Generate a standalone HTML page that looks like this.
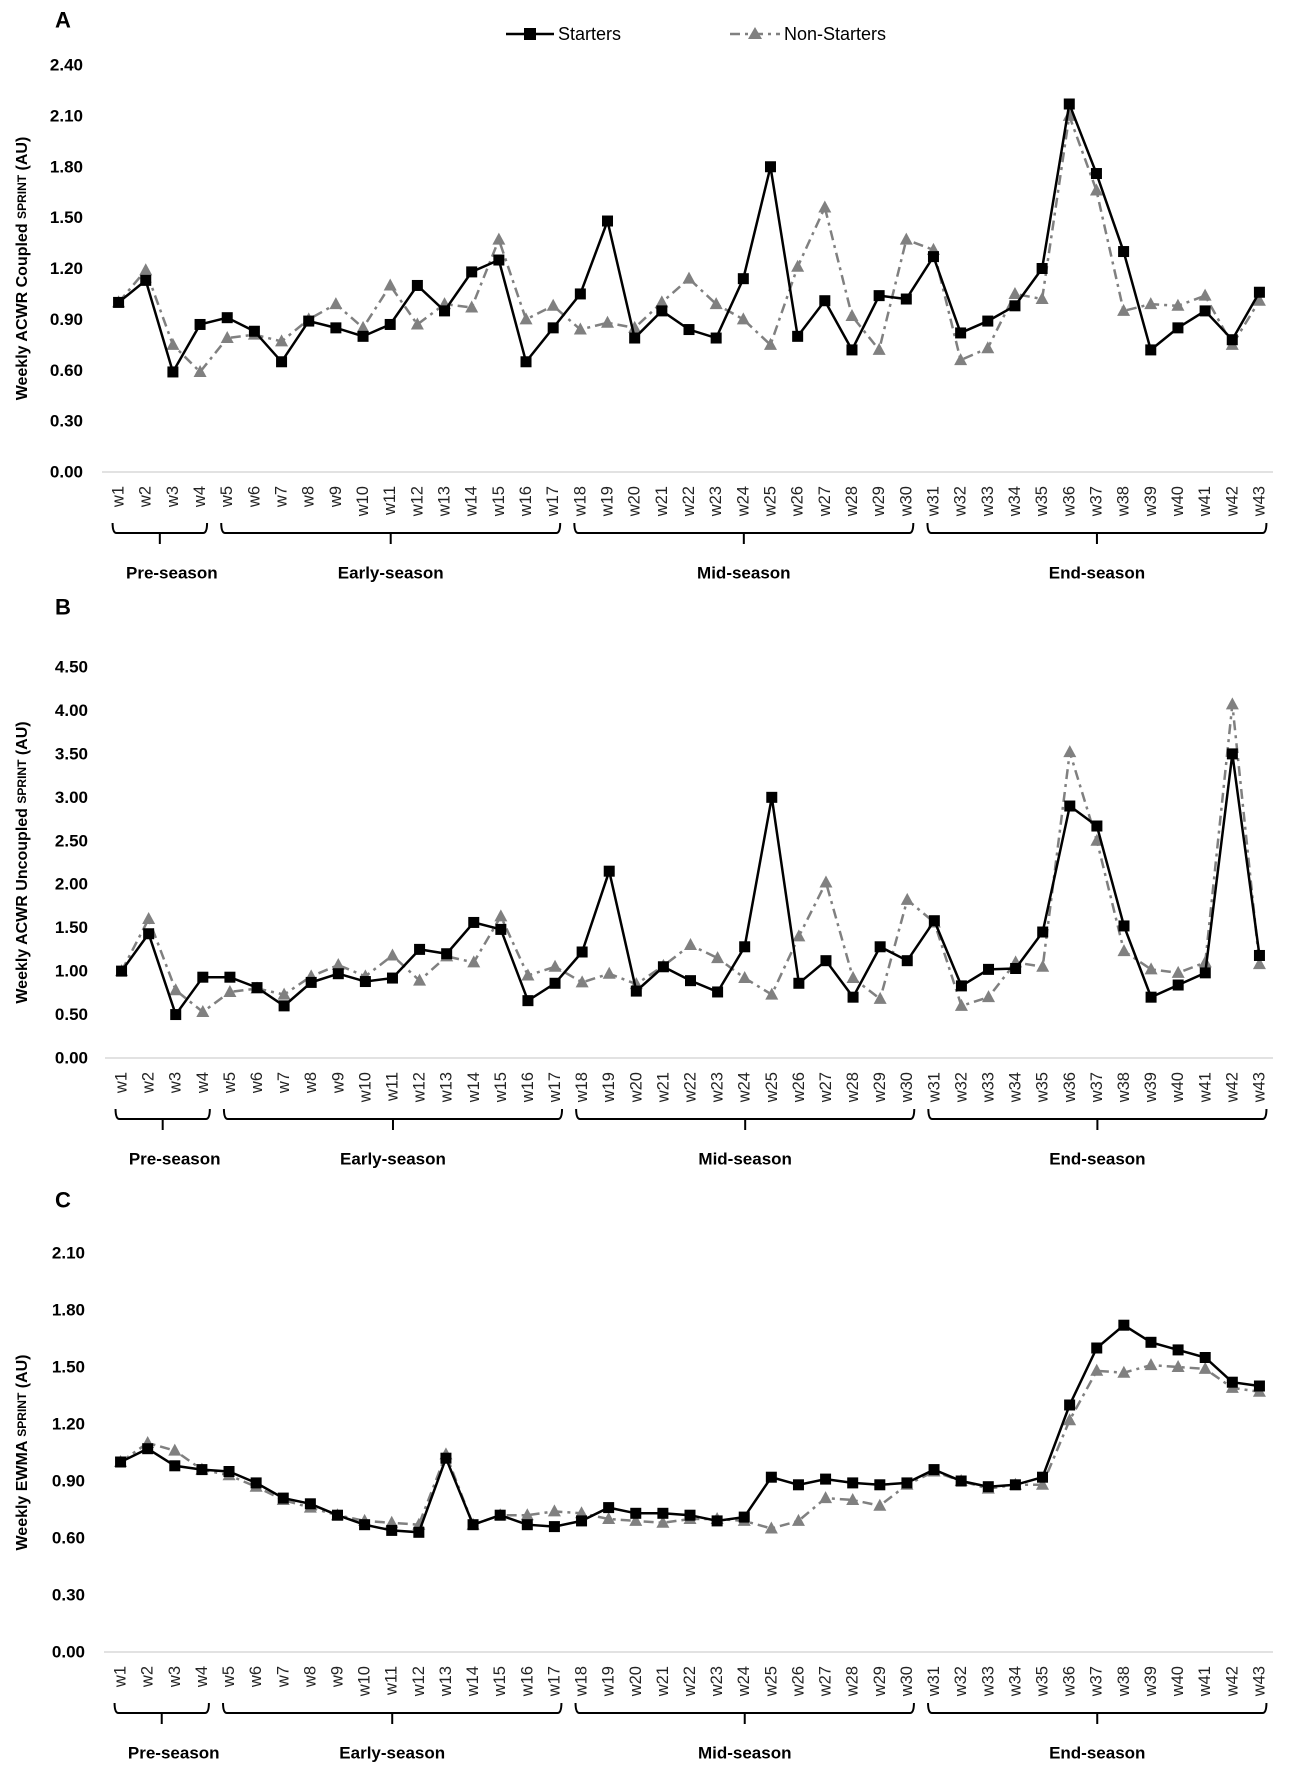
<!DOCTYPE html>
<html><head><meta charset="utf-8"><style>
html,body{margin:0;padding:0;background:#fff;}
svg{display:block;font-family:"Liberation Sans",sans-serif;}
</style></head><body>
<svg id="fig" width="1293" height="1777" viewBox="0 0 1293 1777" xmlns="http://www.w3.org/2000/svg">
<g>
<g>
<line x1="506" y1="34" x2="554" y2="34" stroke="#000" stroke-width="2.5"/>
<rect x="524" y="28" width="12" height="12" fill="#000"/>
<text x="558" y="40" font-size="18" fill="#000">Starters</text>
</g>
<g>
<line x1="730" y1="34" x2="780" y2="34" stroke="#808080" stroke-width="2.5" stroke-dasharray="10,5,3,5"/>
<polygon points="755,27 762,39 748,39" fill="#808080"/>
<text x="784" y="40" font-size="18" fill="#000">Non-Starters</text>
</g>
</g>
</svg>
<script>
const weeks = Array.from({length:43},(_,i)=>'w'+(i+1));
const seasonNames = ['Pre-season','Early-season','Mid-season','End-season'];
const seasonStart = [1,5,18,31];
const seasonEnd = [4,17,30,43];

const aTicks = [0,0.3,0.6,0.9,1.2,1.5,1.8,2.1,2.4];
const aStarters = [1.00,1.13,0.59,0.87,0.91,0.83,0.65,0.89,0.85,0.80,0.87,1.10,0.95,1.18,1.25,0.65,0.85,1.05,1.48,0.79,0.95,0.84,0.79,1.14,1.80,0.80,1.01,0.72,1.04,1.02,1.27,0.82,0.89,0.98,1.20,2.17,1.76,1.30,0.72,0.85,0.95,0.78,1.06];
const aNon = [1.00,1.19,0.75,0.59,0.79,0.81,0.77,0.90,0.99,0.85,1.10,0.87,0.99,0.97,1.37,0.90,0.98,0.84,0.88,0.85,1.00,1.14,0.99,0.90,0.75,1.21,1.56,0.92,0.72,1.37,1.31,0.66,0.73,1.05,1.02,2.10,1.66,0.95,0.99,0.98,1.04,0.75,1.01];

const bTicks = [0,0.5,1,1.5,2,2.5,3,3.5,4,4.5];
const bStarters = [1.00,1.43,0.50,0.93,0.93,0.81,0.60,0.87,0.97,0.88,0.92,1.25,1.20,1.56,1.48,0.66,0.86,1.22,2.15,0.77,1.05,0.89,0.76,1.28,3.00,0.86,1.12,0.70,1.28,1.12,1.58,0.83,1.02,1.03,1.45,2.90,2.67,1.52,0.70,0.84,0.98,3.50,1.18];
const bNon = [1.00,1.60,0.78,0.53,0.76,0.80,0.73,0.94,1.07,0.94,1.18,0.89,1.17,1.10,1.63,0.95,1.05,0.87,0.97,0.85,1.06,1.30,1.15,0.92,0.73,1.40,2.02,0.92,0.68,1.82,1.56,0.60,0.70,1.10,1.05,3.52,2.50,1.23,1.02,0.98,1.10,4.07,1.08];

const cTicks = [0,0.3,0.6,0.9,1.2,1.5,1.8,2.1];
const cStarters = [1.00,1.07,0.98,0.96,0.95,0.89,0.81,0.78,0.72,0.67,0.64,0.63,1.02,0.67,0.72,0.67,0.66,0.69,0.76,0.73,0.73,0.72,0.69,0.71,0.92,0.88,0.91,0.89,0.88,0.89,0.96,0.90,0.87,0.88,0.92,1.30,1.60,1.72,1.63,1.59,1.55,1.42,1.40];
const cNon = [1.00,1.10,1.06,0.96,0.93,0.87,0.80,0.76,0.72,0.69,0.68,0.67,1.04,0.67,0.72,0.72,0.74,0.73,0.70,0.69,0.68,0.70,0.70,0.69,0.65,0.69,0.81,0.80,0.77,0.88,0.95,0.90,0.86,0.88,0.88,1.22,1.48,1.47,1.51,1.50,1.49,1.39,1.37];

const NS='http://www.w3.org/2000/svg';
const svg=document.getElementById('fig');
function mk(tag,attrs,parent){const e=document.createElementNS(NS,tag);for(const k in attrs)e.setAttribute(k,attrs[k]);(parent||svg).appendChild(e);return e;}

function panel(cfg){
  const g=mk('g',{});
  
  
  const x0=cfg.x0,x1=1273,n=weeks.length,step=(x1-x0)/n;
  const xs=i=>x0+(i+0.5)*step;
  const ymax=cfg.ticks[cfg.ticks.length-1];
  const ys=v=>cfg.zero-(v/ymax)*(cfg.zero-cfg.top);
  const L=mk('text',{x:63,y:cfg.letterY,'font-size':22,'font-weight':'bold','text-anchor':'middle','dominant-baseline':'central'},g);
  L.textContent=cfg.letter;
  
  
  cfg.ticks.forEach(t=>{
    const tx=mk('text',{x:cfg.tickX,y:ys(t),'font-size':17,'font-weight':'bold','text-anchor':'end','dominant-baseline':'central'},g);
    tx.textContent=t.toFixed(2);
    
    
  });
  const ax=mk('line',{x1:x0-3,y1:cfg.zero,x2:x1,y2:cfg.zero,stroke:'#d9d9d9','stroke-width':1.5},g);
  
  
  const cy=(cfg.top+cfg.zero)/2;
  const yt=mk('text',{x:0,y:0,'font-size':16,'font-weight':'bold','text-anchor':'middle','dominant-baseline':'central',transform:`translate(22,${cy}) rotate(-90)`},g);
  
  
  const t1=mk('tspan',{},yt);t1.textContent=cfg.title1+' ';
  const t2=mk('tspan',{'font-size':12},yt);t2.textContent='SPRINT';
  const t3=mk('tspan',{},yt);t3.textContent=' (AU)';
  weeks.forEach((w,i)=>{
    const tx=mk('text',{x:0,y:0,'font-size':16.5,'text-anchor':'end','dominant-baseline':'central',fill:'#222',transform:`translate(${xs(i)},${cfg.zero+14}) rotate(-90)`},g);
    tx.textContent=w;
    
    
  });
  seasonNames.forEach((s,k)=>{
    const a=xs(seasonStart[k]-1)-6,b=xs(seasonEnd[k]-1)+7,m=(a+b)/2,yb=cfg.zero+61;
    const p=mk('path',{d:`M${a},${yb-10} Q${a},${yb} ${a+4},${yb} L${b-4},${yb} Q${b},${yb} ${b},${yb-10} M${m},${yb} L${m},${yb+11}`,fill:'none',stroke:'#000','stroke-width':2},g);
    
    
    const tx=mk('text',{x:m+(k==0?12:0),y:cfg.zero+101,'font-size':17,'font-weight':'bold','text-anchor':'middle','dominant-baseline':'central'},g);
    tx.textContent=s;
    
    
  });
  const pn=cfg.non.map((v,i)=>xs(i)+','+ys(v)).join(' ');
  const ln=mk('polyline',{points:pn,fill:'none',stroke:'#808080','stroke-width':2.5,'stroke-dasharray':'10,5,3,5'},g);
  
  
  cfg.non.forEach((v,i)=>{
    const x=xs(i),y=ys(v);
    const t=mk('polygon',{points:`${x},${y-7} ${x+6.5},${y+5} ${x-6.5},${y+5}`,fill:'#808080'},g);
    
    
  });
  const ps=cfg.st.map((v,i)=>xs(i)+','+ys(v)).join(' ');
  const ls=mk('polyline',{points:ps,fill:'none',stroke:'#000','stroke-width':2.5},g);
  
  
  cfg.st.forEach((v,i)=>{
    const r=mk('rect',{x:xs(i)-5.5,y:ys(v)-5.5,width:11,height:11,fill:'#000'},g);
    
    
  });
}
panel({letter:'A',letterY:20,x0:105,zero:472,top:65,tickX:83,ticks:aTicks,st:aStarters,non:aNon,title1:'Weekly ACWR Coupled'});
panel({letter:'B',letterY:607,x0:108,zero:1058,top:667,tickX:88,ticks:bTicks,st:bStarters,non:bNon,title1:'Weekly ACWR Uncoupled'});
panel({letter:'C',letterY:1200,x0:107,zero:1652,top:1253,tickX:85,ticks:cTicks,st:cStarters,non:cNon,title1:'Weekly EWMA'});
</script>
</body></html>
